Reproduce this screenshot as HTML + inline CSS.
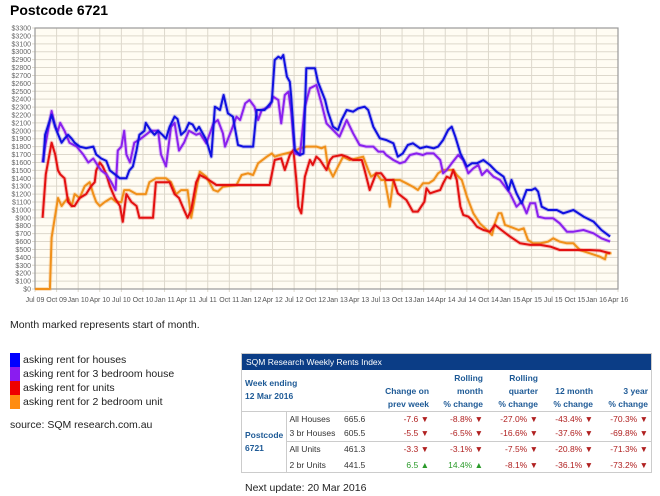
<!DOCTYPE html>
<html><head><meta charset="utf-8">
<style>
body{margin:0;width:660px;height:496px;background:#fff;font-family:"Liberation Sans",sans-serif;position:relative;overflow:hidden}
.a{position:absolute}
#title{left:10px;top:2px;font-size:14px;font-weight:bold;color:#000}
.leg{left:10px;width:10px;height:14px}
.lt{left:23px;font-size:10.5px;color:#222}
table{border-collapse:collapse;font-size:8.5px;font-family:"Liberation Sans",sans-serif;table-layout:fixed}
td{padding:0 3px;white-space:nowrap;overflow:hidden}
.neg{color:#b02020;text-align:right}
.pos{color:#2a9a2a;text-align:right}
.hd{color:#1e5a96;font-weight:bold;text-align:right;vertical-align:bottom;line-height:13px}
</style></head><body>
<div id="title" class="a">Postcode 6721</div>
<svg id="chart" class="a" style="left:0;top:20px" width="660" height="290"></svg>
<div class="a" style="left:10px;top:319px;font-size:10.5px;color:#222">Month marked represents start of month.</div>
<div class="a leg" style="top:353px;background:#0000ff"></div>
<div class="a leg" style="top:367px;background:#8a1cf0"></div>
<div class="a leg" style="top:381px;background:#ee0000"></div>
<div class="a leg" style="top:395px;background:#ff8c10"></div>
<div class="a lt" style="top:354px">asking rent for houses</div>
<div class="a lt" style="top:368px">asking rent for 3 bedroom house</div>
<div class="a lt" style="top:382px">asking rent for units</div>
<div class="a lt" style="top:396px">asking rent for 2 bedroom unit</div>
<div class="a" style="left:10px;top:419px;font-size:10.5px;color:#222">source: SQM research.com.au</div>

<div class="a" style="left:241px;top:353px;width:409px;border:1px solid #ccc;overflow:hidden">
<div style="background:#0b3d86;color:#fff;font-size:8.5px;height:16px;line-height:16px;padding-left:4px">SQM Research Weekly Rents Index</div>
<table style="width:409px">
<colgroup><col style="width:44px"><col style="width:55px"><col style="width:40px"><col style="width:51px"><col style="width:54px"><col style="width:55px"><col style="width:55px"><col style="width:55px"></colgroup>
<tr style="height:41px;border-bottom:1px solid #ccc">
<td colspan="3" class="hd" style="text-align:left;vertical-align:middle">Week ending<br>12 Mar 2016</td>
<td class="hd">Change on<br>prev week</td>
<td class="hd">Rolling<br>month<br>% change</td>
<td class="hd">Rolling<br>quarter<br>% change</td>
<td class="hd">12 month<br>% change</td>
<td class="hd">3 year<br>% change</td>
</tr>
<tr style="height:15px"><td rowspan="4" class="hd" style="text-align:left;vertical-align:middle;border-right:1px solid #ccc">Postcode<br>6721</td><td style="color:#333">All Houses</td><td style="color:#333">665.6</td><td class="neg">-7.6 ▼</td><td class="neg">-8.8% ▼</td><td class="neg">-27.0% ▼</td><td class="neg">-43.4% ▼</td><td class="neg">-70.3% ▼</td></tr>
<tr style="height:15px"><td style="color:#333">3 br Houses</td><td style="color:#333">605.5</td><td class="neg">-5.5 ▼</td><td class="neg">-6.5% ▼</td><td class="neg">-16.6% ▼</td><td class="neg">-37.6% ▼</td><td class="neg">-69.8% ▼</td></tr>
<tr style="height:16px;border-top:1px solid #ccc"><td style="color:#333">All Units</td><td style="color:#333">461.3</td><td class="neg">-3.3 ▼</td><td class="neg">-3.1% ▼</td><td class="neg">-7.5% ▼</td><td class="neg">-20.8% ▼</td><td class="neg">-71.3% ▼</td></tr>
<tr style="height:15px"><td style="color:#333">2 br Units</td><td style="color:#333">441.5</td><td class="pos">6.5 ▲</td><td class="pos">14.4% ▲</td><td class="neg">-8.1% ▼</td><td class="neg">-36.1% ▼</td><td class="neg">-73.2% ▼</td></tr>
</table></div>
<div class="a" style="left:245px;top:482px;font-size:10.5px;color:#222">Next update: 20 Mar 2016</div>

<script>
// months since Jul 2009
const xLabels=["Jul 09","Oct 09","Jan 10","Apr 10","Jul 10","Oct 10","Jan 11","Apr 11","Jul 11","Oct 11","Jan 12","Apr 12","Jul 12","Oct 12","Jan 13","Apr 13","Jul 13","Oct 13","Jan 14","Apr 14","Jul 14","Oct 14","Jan 15","Apr 15","Jul 15","Oct 15","Jan 16","Apr 16"];
const yTicks=[0,100,200,300,400,500,600,700,800,900,1000,1100,1200,1300,1400,1500,1600,1700,1800,1900,2000,2100,2200,2300,2400,2500,2600,2700,2800,2900,3000,3100,3200,3300];
const houseT=[1.15,1.4,2.3,3.0,3.7,4.1,4.6,5.1,5.5,6.2,7.1,8.1,8.5,9.2,9.9,10.4,11.1,11.8,12.7,13.1,13.6,14.1,14.5,15.2,15.4,16.1,16.6,17.1,17.7,18.2,18.7,19.4,19.8,20.3,20.9,21.4,21.9,22.4,22.8,23.8,24.5,25.0,25.7,26.2,26.8,27.5,28.2,28.9,30.3,30.8,31.9,32.9,33.3,33.8,34.2,34.5,35.0,35.4,35.6,36.1,36.8,37.3,37.7,38.9,39.3,40.3,40.7,41.4,42.1,42.6,43.3,44.2,44.9,45.8,46.3,47.0,47.9,48.8,49.8,50.4,51.1,51.8,52.5,53.5,54.4,55.4,56.0,56.7,57.4,57.9,58.4,59.1,60.0,60.7,61.4,62.3,63.2,64.1,65.1,65.8,66.2,66.9,67.6,68.3,69.0,69.5,69.9,70.4,71.3,72.5,73.4,74.8,76.2,77.6,78.7,79.9];
const houseV=[1600,1950,2200,2000,1850,1900,1950,1900,1850,1800,1780,1800,1700,1650,1620,1500,1450,1400,1400,1500,1550,1750,1950,2000,2100,2000,1950,2000,1950,1900,2050,2180,2150,1950,2000,2100,2080,2000,2050,1884,1673,2305,2263,2453,2221,2179,1821,1800,1800,2263,2263,2368,2895,2937,2916,2958,2685,2621,2432,1758,1694,1715,2790,2790,2621,2390,2242,2052,2010,2137,2263,2242,2284,2305,2263,2052,1905,1884,1842,1673,1715,1821,1842,1779,1800,1779,1800,1884,2010,2052,1926,1715,1547,1589,1589,1631,1568,1484,1420,1252,1378,1210,1083,1252,1252,1273,1231,1041,999,999,957,999,915,852,746,662];
const house3T=[1.06,1.4,2.3,2.8,3.2,3.5,4.1,4.8,5.8,6.7,7.4,8.1,8.8,9.2,9.9,10.6,11.2,11.5,12.0,12.4,12.7,13.2,13.8,14.7,15.4,16.1,17.1,17.5,18.2,18.9,19.4,20.0,20.7,21.4,22.4,22.9,23.8,24.8,25.4,26.1,26.4,27.3,28.0,28.5,29.2,29.8,30.5,31.0,31.5,32.6,33.1,33.8,34.2,34.7,35.2,35.6,36.1,36.8,37.5,38.2,39.1,39.8,40.5,41.4,42.3,43.3,44.2,45.1,46.0,47.0,47.7,48.4,48.8,49.8,50.7,51.4,52.1,53.0,53.9,54.4,55.4,56.3,56.7,57.2,57.9,58.8,59.5,60.2,60.9,61.6,62.1,62.8,63.7,64.6,65.3,66.0,66.9,67.6,68.3,68.8,69.5,69.9,70.9,72.0,72.9,73.9,74.8,76.2,77.6,78.7,79.9];
const house3V=[1600,1800,2250,2050,2000,2100,2000,1850,1800,1700,1600,1650,1550,1500,1450,1350,1250,1750,1800,2000,1700,1600,1850,1900,1950,2000,2000,1700,1550,2050,2100,1750,1850,2000,1950,1968,1842,2094,2137,1968,1800,2010,2179,2137,2347,2390,2305,2137,2263,2305,2432,2390,2094,2453,2495,2242,1715,1694,2305,2537,2579,2347,2094,2010,1926,2137,1968,1821,1800,1800,1737,1737,1694,1631,1589,1610,1694,1715,1694,1715,1715,1631,1463,1505,1589,1694,1631,1463,1526,1568,1442,1505,1420,1378,1294,1210,1041,1104,957,1083,1083,915,894,894,831,725,725,746,704,641,599];
const unitT=[1.06,1.5,2.3,2.8,3.2,3.5,4.1,4.6,5.1,5.5,6.2,7.1,7.8,8.3,8.5,9.0,9.4,9.9,10.4,11.1,11.8,12.2,12.7,13.4,14.1,14.5,15.4,16.4,16.8,17.7,18.7,19.4,20.0,20.7,21.2,21.7,22.4,22.9,23.8,25.2,27.5,32.6,33.3,34.2,34.7,35.4,35.9,36.3,36.6,37.0,37.5,38.2,38.6,39.1,39.6,40.5,41.0,41.4,42.6,43.3,44.2,45.4,45.8,46.5,47.4,48.1,48.8,49.8,50.4,51.6,52.5,53.2,54.1,54.4,54.9,55.6,56.3,56.7,57.2,57.7,58.1,58.6,59.1,59.5,60.2,60.7,61.4,62.3,63.2,63.9,64.8,66.0,67.4,68.8,70.2,71.6,72.9,74.3,75.7,77.1,78.5,79.9];
const unitV=[900,1450,1850,1700,1500,1450,1400,1100,1050,1050,1150,1200,1300,1350,1500,1600,1550,1450,1300,1150,1050,850,1200,1100,1050,900,900,900,1350,1350,1350,1200,1150,1000,900,1000,1350,1441,1400,1315,1315,1315,1631,1652,1505,1694,1758,1378,1041,957,1420,1631,1568,1673,1631,1505,1631,1673,1694,1673,1631,1631,1505,1252,1463,1463,1378,1378,1210,1125,978,978,1104,1273,1210,1231,1252,1336,1420,1400,1505,1378,1041,936,915,873,788,746,725,810,746,662,578,557,557,536,493,493,493,493,485,451];
const unit2T=[0,2.07,2.3,3.2,3.7,4.1,4.6,5.1,5.5,6.2,6.9,7.6,8.1,8.5,9.0,9.7,10.6,11.3,12.0,12.4,13.1,14.1,15.4,15.9,16.8,18.2,18.9,19.6,20.3,21.2,21.7,22.4,22.9,23.8,24.8,25.4,26.1,28.0,28.7,29.6,30.3,31.0,32.2,32.9,33.3,34.0,34.9,35.9,36.8,37.7,39.1,39.8,40.3,40.7,41.4,42.1,42.8,43.7,44.7,45.6,46.3,46.7,47.4,48.1,48.6,49.3,49.8,50.7,51.6,52.5,53.2,53.9,54.7,55.4,56.0,56.7,58.1,58.6,59.3,60.0,60.9,61.8,62.8,63.5,63.9,64.4,64.8,65.3,66.0,67.2,67.9,68.5,69.2,70.2,71.3,72.0,72.9,73.9,74.8,75.7,77.1,78.5,79.2,79.4,80.1];
const unit2V=[0,0,650,1150,1050,1100,1150,1050,1200,1150,1300,1350,1200,1100,1050,1100,1150,1100,1100,1250,1250,1200,1200,1350,1400,1400,1350,1200,1250,1250,900,1250,1484,1420,1252,1231,1294,1315,1441,1463,1441,1589,1673,1715,1673,1694,1715,1737,1779,1800,1800,1779,1800,1547,1420,1547,1673,1631,1652,1673,1505,1420,1463,1378,1378,1041,1378,1378,1336,1294,1252,1336,1336,1378,1463,1505,1505,1442,1378,1168,957,831,746,683,831,957,957,810,788,746,767,620,578,578,599,641,599,578,578,493,451,409,375,451,451];

const svg=document.getElementById('chart');
const NS='http://www.w3.org/2000/svg';
const L=35,R=618,T=8,B=269,M=81,YMAX=3300;
const xs=t=>L+t*(R-L)/M;
const ys=v=>B-v*(B-T)/YMAX;
function mk(tag,attrs){const e=document.createElementNS(NS,tag);for(const k in attrs)e.setAttribute(k,attrs[k]);svg.appendChild(e);return e;}
const bg=mk('rect',{x:L,y:T,width:R-L,height:B-T,fill:'#fffcf3',stroke:'#999','stroke-width':1});


yTicks.forEach(v=>{
  const g=mk('line',{x1:L-3,x2:R,y1:ys(v),y2:ys(v),stroke:'#ddd8cc','stroke-width':1});
  
  
  const t=mk('text',{x:L-4,y:ys(v)+2.5,'text-anchor':'end','font-size':'7','fill':'#666','font-family':'Liberation Sans,sans-serif'});
  t.textContent='$'+v;
  
  
});
xLabels.forEach((s,i)=>{
  const x=xs(i*3);
  const g=mk('line',{x1:x,x2:x,y1:T,y2:B+3,stroke:'#ddd8cc','stroke-width':1});
  
  
  const t=mk('text',{x:x,y:B+13,'text-anchor':'middle','font-size':'7','fill':'#555','font-family':'Liberation Sans,sans-serif'});
  t.textContent=s;
  
  
});
mk('rect',{x:L,y:T,width:R-L,height:B-T,fill:'none',stroke:'#999','stroke-width':1.2});
function series(T_,V_,color,name){
  const d=T_.map((t,i)=>(i?'L':'M')+xs(t).toFixed(1)+' '+ys(V_[i]).toFixed(1)).join(' ');
  mk('path',{d:d,fill:'none',stroke:color,'stroke-opacity':0.25,'stroke-width':4,'stroke-linejoin':'round'});
  const p=mk('path',{d:d,fill:'none',stroke:color,'stroke-width':2,'stroke-linejoin':'round'});
  
  
}
series(unit2T,unit2V,'#f0901a','line-2br-units');
series(unitT,unitV,'#e31010','line-units');
series(house3T,house3V,'#8a20ee','line-3br-houses');
series(houseT,houseV,'#1010e0','line-houses');
</script>
</body></html>
